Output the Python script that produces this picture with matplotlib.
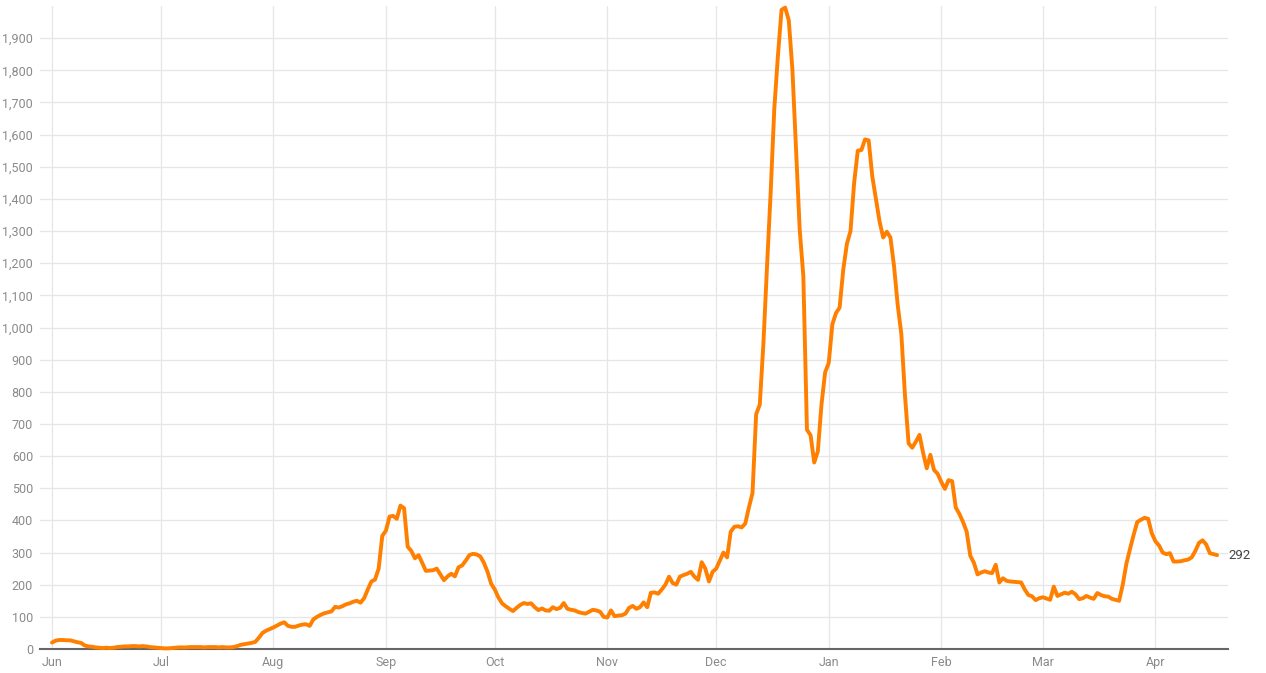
import matplotlib
matplotlib.use("Agg")
import matplotlib.pyplot as plt
import matplotlib.dates as mdates
from matplotlib.ticker import FuncFormatter
import numpy as np
import pandas as pd

# daily values, one list per month
jun = [20, 26, 28, 28, 27, 27, 24, 21, 19, 11, 8, 7, 5, 4, 3, 4, 3, 4, 6, 7,
       8, 8, 9, 9, 8, 9, 8, 6, 5, 4]
jul = [3, 2, 2, 3, 4, 5, 5, 5, 6, 6, 6, 6, 5, 6, 6, 6, 5, 6, 5, 5,
       6, 9, 13, 15, 17, 19, 22, 35, 50, 57, 62]
aug = [67, 73, 79, 83, 72, 69, 69, 73, 76, 77, 72, 92, 100, 106, 111, 114, 117, 131, 129, 133,
       139, 142, 147, 150, 144, 158, 185, 210, 216, 250, 352]
sep = [368, 412, 414, 405, 446, 438, 318, 305, 282, 292, 268, 243, 244, 245, 250, 232, 214, 226, 234, 226,
       254, 260, 275, 292, 296, 294, 288, 268, 240, 203]
oct_ = [185, 160, 142, 133, 125, 118, 128, 137, 143, 140, 142, 130, 121, 126, 120, 119, 130, 124, 128, 143,
        125, 122, 120, 115, 112, 110, 116, 122, 120, 116, 100]
nov = [98, 120, 102, 104, 105, 110, 128, 134, 125, 130, 145, 130, 175, 176, 172, 185, 200, 225, 205, 200,
       225, 230, 234, 240, 225, 215, 270, 250, 210, 240]
dec = [250, 275, 300, 285, 365, 380, 382, 378, 390, 440, 485, 730, 760, 950, 1190, 1420, 1680, 1845, 1988, 1995,
       1955, 1800, 1555, 1305, 1160, 682, 665, 580, 615, 760, 860]
jan = [890, 1010, 1045, 1062, 1180, 1260, 1300, 1450, 1550, 1552, 1585, 1582, 1470, 1400, 1330, 1280, 1298, 1280, 1190, 1070,
       980, 790, 640, 626, 645, 666, 610, 562, 604, 557, 545]
feb = [520, 498, 525, 522, 440, 420, 395, 365, 290, 268, 232, 238, 242, 238, 236, 262, 207, 220, 212, 210,
       209, 208, 207, 185, 168, 164, 152, 158]
mar = [161, 157, 153, 194, 165, 170, 175, 172, 178, 170, 155, 158, 165, 160, 156, 174, 168, 164, 163, 156,
       153, 150, 200, 265, 311, 355, 395, 402, 408, 405, 360]
apr = [335, 322, 300, 295, 298, 272, 272, 273, 276, 278, 285, 305, 330, 338, 325, 298, 295, 292]

values = jun + jul + aug + sep + oct_ + nov + dec + jan + feb + mar + apr
dates = pd.date_range("2020-06-01", periods=len(values), freq="D")
month_starts = pd.date_range("2020-06-01", "2021-04-01", freq="MS")

plt.rcParams["font.family"] = ["Roboto", "DejaVu Sans"]

fig = plt.figure(figsize=(12.66, 6.73), dpi=100)
ax = fig.add_axes([40 / 1266, 24 / 673, 1188 / 1266, 643 / 673])

ax.plot(dates, values, color="#ff7f00", lw=2.8, solid_joinstyle="round",
        solid_capstyle="round", zorder=3, clip_on=False)

start = pd.Timestamp("2020-06-01")
ax.set_xlim(start - pd.Timedelta(days=3.3), start + pd.Timedelta(days=324))
ax.set_ylim(0, 2000)

ax.set_yticks(range(0, 2000, 100))
ax.yaxis.set_major_formatter(FuncFormatter(lambda v, p: f"{int(v):,}"))
ax.set_xticks(month_starts)
ax.xaxis.set_major_formatter(mdates.DateFormatter("%b"))

ax.grid(True, color="#e6e6e6", lw=0.9)
ax.set_axisbelow(True)
for s in ["top", "right", "left"]:
    ax.spines[s].set_visible(False)
ax.spines["bottom"].set_color("#666666")
ax.spines["bottom"].set_linewidth(1.5)
ax.tick_params(axis="both", length=0, labelsize=9, labelcolor="#8a8a8a")
ax.tick_params(axis="y", pad=5)
ax.tick_params(axis="x", pad=5)

# end value label
ax.annotate(f"{values[-1]}", xy=(dates[-1], values[-1]), xytext=(8, 0),
            textcoords="offset points", va="center", ha="left",
            fontsize=9.5, color="#444444")

fig.savefig("out.png", dpi=100)
